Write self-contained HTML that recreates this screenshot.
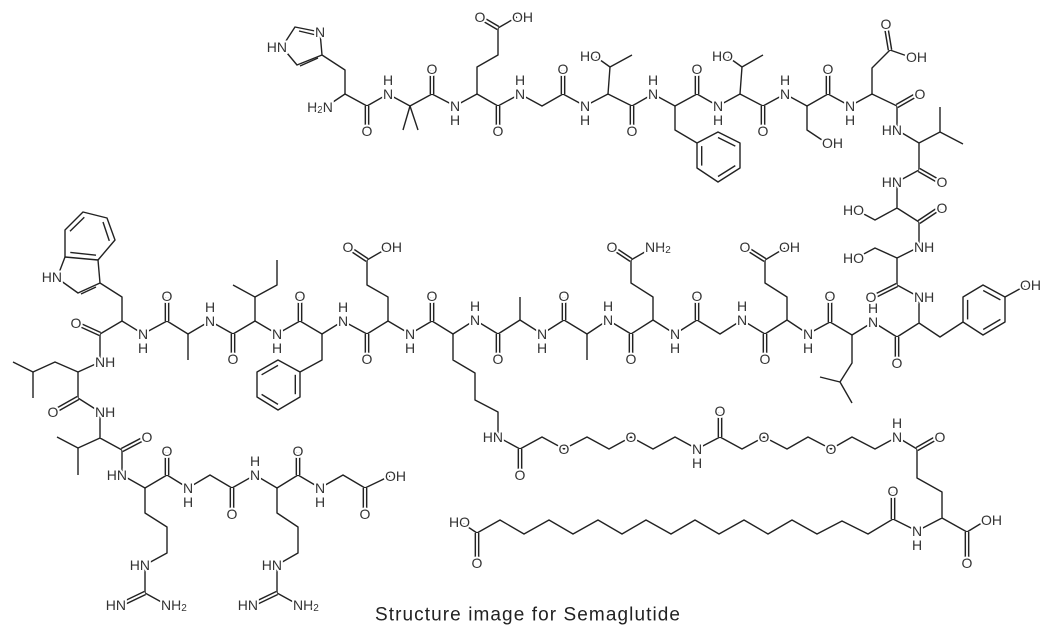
<!DOCTYPE html>
<html><head><meta charset="utf-8"><style>
html,body{margin:0;padding:0;background:#fff;}
svg{display:block}
.b{stroke:#222;stroke-width:1.4;fill:none;stroke-linejoin:round}
text{font-family:"Liberation Sans",sans-serif;font-size:14px;fill:#333;stroke:#fff;stroke-width:4;paint-order:stroke;dominant-baseline:central}
.c{text-anchor:middle}
.e{text-anchor:end}
.s{text-anchor:start}
</style></head><body>
<svg width="1052" height="631" viewBox="0 0 1052 631" xmlns="http://www.w3.org/2000/svg">
<polyline class="b" points="330,104 345,94 367,106 388,94 410,106 432,94 455,106 477,94 498,106 520,94 542,106 563,94 585,106 608,94 632,106 653,94 675,106 697,94 718,106 740,94 763,106 785,94 807,106 828,94 850,106 872,94 897,106 897,130 919,143 919,170 897,182 897,208 919,222 919,247 897,258 897,285 919,297 919,323 897,337 873,322 852,335 830,322 808,334 787,320 765,334 742,320 720,334 697,320 675,334 653,320 631,334 608,320 587,334 564,320 542,334 520,320 498,334 475,320 453,334 432,321 410,334 388,321 367,334 343,321 322,334 300,321 277,334 255,321 233,334 210,321 188,334 167,321 143,334 122,321 100,334 100,362 78,372 78,398 100,412 100,438 122,450 122,475 145,488 167,475 188,488 210,475 232,488 255,475 277,488 298,475 320,488 343,475 365,488 390,476"/>
<polyline class="b" points="345,94 345,70 322,55 320,32 295,27 282,47 297,65 322,55"/>
<line class="b" x1="410" y1="106" x2="403" y2="130"/><line class="b" x1="410" y1="106" x2="418" y2="130"/>
<polyline class="b" points="477,94 477,67 498,55 498,28 517,17"/>
<polyline class="b" points="608,94 610,67 632,55"/><line class="b" x1="610" y1="67" x2="596" y2="57"/>
<polyline class="b" points="675,106 675,130 697,143 718,132 740,143 740,168 718,182 697,168 697,143"/>
<polyline class="b" points="740,94 742,67 763,55"/><line class="b" x1="742" y1="67" x2="728" y2="57"/>
<polyline class="b" points="807,106 807,130 825,142"/>
<polyline class="b" points="872,94 872,68 890,50 910,57"/>
<polyline class="b" points="919,143 940,132 940,107"/><line class="b" x1="940" y1="132" x2="963" y2="144"/>
<polyline class="b" points="897,208 875,220 860,212"/>
<polyline class="b" points="897,258 875,248 860,256"/>
<polyline class="b" points="919,323 940,337 963,322 963,297 983,285 1005,297 1005,322 983,335 963,322"/>
<line class="b" x1="1005" y1="297" x2="1025" y2="286"/>
<polyline class="b" points="852,335 852,363 840,382 852,403"/><line class="b" x1="840" y1="382" x2="820" y2="377"/>
<polyline class="b" points="787,320 787,297 765,283 765,260 785,248"/>
<polyline class="b" points="653,320 653,297 631,283 631,260 650,249"/>
<line class="b" x1="520" y1="320" x2="520" y2="297"/>
<line class="b" x1="587" y1="334" x2="587" y2="360"/>
<polyline class="b" points="453,334 453,360 475,373 475,400 498,412 498,437 520,449 542,437 564,449 587,437 609,449 631,437 653,449 675,437 697,449 720,437 742,449 764,437 787,449 808,437 831,449 852,437 875,449 897,437 917,449 917,478 942,492 942,518 917,531 893,519 868,534 842,521 817,534 792,520 768,534 744,520 719,534 695,520 671,534 646,520 622,534 598,520 573,534 549,520 524,534 500,520 477,533 462,523"/>
<line class="b" x1="942" y1="518" x2="967" y2="532"/><line class="b" x1="967" y1="532" x2="985" y2="521"/>
<polyline class="b" points="122,321 122,297 100,283 78,293 57,278 65,257 98,260 100,283"/>
<polyline class="b" points="65,257 65,230 83,212 107,218 115,240 98,260"/>
<line class="b" x1="188" y1="334" x2="188" y2="360"/>
<polyline class="b" points="255,321 255,297 233,285"/><polyline class="b" points="255,297 277,285 277,260"/>
<polyline class="b" points="322,334 322,360 300,372 300,397 278,410 257,397 257,372 278,360 300,372"/>
<polyline class="b" points="388,321 388,297 367,285 367,260 386,249"/>
<polyline class="b" points="78,372 55,362 33,372 13,362"/><line class="b" x1="33" y1="372" x2="33" y2="398"/>
<polyline class="b" points="100,438 78,448 57,437"/><line class="b" x1="78" y1="448" x2="78" y2="475"/>
<polyline class="b" points="145,488 145,513 167,527 167,553 145,565 145,593 165,604"/>
<polyline class="b" points="277,488 277,513 298,527 298,553 277,565 277,593 297,604"/>
<g class="b">
<line x1="718" y1="137.5" x2="735.3" y2="146.1"/><line x1="735.3" y1="165.6" x2="718" y2="176.5"/><line x1="701.7" y1="165.6" x2="701.7" y2="146.1"/>
<line x1="295.3" y1="374.8" x2="295.3" y2="394.2"/><line x1="278" y1="404.4" x2="261.6" y2="394.4"/><line x1="261.6" y1="374.8" x2="278" y2="365.4"/>
<line x1="983.2" y1="290.5" x2="1000.4" y2="299.9"/><line x1="1000.4" y1="319.4" x2="983.2" y2="329.5"/><line x1="967.6" y1="319.4" x2="967.6" y2="299.9"/>
<line x1="70" y1="231.3" x2="84.3" y2="217.3"/><line x1="103" y1="222" x2="109.3" y2="240.9"/><line x1="96" y1="255.2" x2="70.3" y2="252.4"/>
<line x1="96" y1="287" x2="81" y2="294"/>
<line x1="299" y1="31" x2="316" y2="35"/><line x1="318" y1="58" x2="300" y2="66"/>
</g>
<g id="dbl">
<line x1="367" y1="106" x2="367" y2="130"/><line x1="432" y1="94" x2="432" y2="70"/><line x1="498" y1="106" x2="498" y2="130"/><line x1="563" y1="94" x2="563" y2="70"/>
<line x1="632" y1="106" x2="632" y2="130"/><line x1="697" y1="94" x2="697" y2="70"/><line x1="763" y1="106" x2="763" y2="130"/><line x1="828" y1="94" x2="828" y2="70"/>
<line x1="897" y1="106" x2="918" y2="94"/><line x1="919" y1="170" x2="940" y2="182"/><line x1="919" y1="222" x2="940" y2="208"/><line x1="897" y1="285" x2="873" y2="297"/>
<line x1="897" y1="337" x2="897" y2="362"/><line x1="830" y1="322" x2="830" y2="297"/><line x1="765" y1="334" x2="765" y2="358"/><line x1="697" y1="320" x2="697" y2="297"/>
<line x1="631" y1="334" x2="631" y2="358"/><line x1="564" y1="320" x2="564" y2="297"/><line x1="498" y1="334" x2="498" y2="358"/><line x1="432" y1="321" x2="432" y2="297"/>
<line x1="367" y1="334" x2="367" y2="358"/><line x1="300" y1="321" x2="300" y2="297"/><line x1="233" y1="334" x2="233" y2="358"/><line x1="167" y1="321" x2="167" y2="297"/>
<line x1="100" y1="334" x2="78" y2="324"/><line x1="78" y1="398" x2="55" y2="411"/><line x1="122" y1="450" x2="145" y2="438"/><line x1="167" y1="475" x2="167" y2="452"/>
<line x1="232" y1="488" x2="232" y2="513"/><line x1="298" y1="475" x2="298" y2="452"/><line x1="365" y1="488" x2="365" y2="513"/>
<line x1="498" y1="28" x2="481" y2="18"/><line x1="890" y1="50" x2="886" y2="26"/><line x1="765" y1="260" x2="746" y2="248"/><line x1="631" y1="260" x2="613" y2="248"/><line x1="367" y1="260" x2="349" y2="248"/>
<line x1="520" y1="449" x2="520" y2="474"/><line x1="720" y1="437" x2="720" y2="412"/><line x1="917" y1="449" x2="938" y2="437"/><line x1="893" y1="519" x2="893" y2="492"/>
<line x1="967" y1="532" x2="967" y2="562"/><line x1="477" y1="533" x2="477" y2="562"/>
<line x1="145" y1="593" x2="122" y2="604"/><line x1="277" y1="593" x2="254" y2="604"/>
</g>
<use href="#dbl" style="stroke:#222;stroke-width:4.8"/>
<use href="#dbl" style="stroke:#fff;stroke-width:1.9"/>
<g>
<text class="c" x="320" y="107">H<tspan font-size="10" dy="3">2</tspan><tspan dy="-3">N</tspan></text>
<text class="c" x="320" y="32">N</text><text class="e" x="287" y="47">HN</text>
<text class="c" x="388" y="94">N</text><text class="c" x="388" y="80">H</text>
<text class="c" x="455" y="106">N</text><text class="c" x="455" y="120">H</text>
<text class="c" x="520" y="94">N</text><text class="c" x="520" y="80">H</text>
<text class="c" x="585" y="106">N</text><text class="c" x="585" y="120">H</text>
<text class="c" x="653" y="94">N</text><text class="c" x="653" y="80">H</text>
<text class="c" x="718" y="106">N</text><text class="c" x="718" y="120">H</text>
<text class="c" x="785" y="94">N</text><text class="c" x="785" y="80">H</text>
<text class="c" x="850" y="106">N</text><text class="c" x="850" y="120">H</text>
<text class="e" x="902" y="130">HN</text><text class="e" x="902" y="182">HN</text>
<text class="s" x="914" y="247">NH</text><text class="s" x="914" y="297">NH</text>
<text class="c" x="873" y="322">N</text><text class="c" x="873" y="308">H</text>
<text class="c" x="808" y="334">N</text><text class="c" x="808" y="348">H</text>
<text class="c" x="742" y="320">N</text><text class="c" x="742" y="306">H</text>
<text class="c" x="675" y="334">N</text><text class="c" x="675" y="348">H</text>
<text class="c" x="608" y="320">N</text><text class="c" x="608" y="306">H</text>
<text class="c" x="542" y="334">N</text><text class="c" x="542" y="348">H</text>
<text class="c" x="475" y="320">N</text><text class="c" x="475" y="306">H</text>
<text class="c" x="410" y="334">N</text><text class="c" x="410" y="348">H</text>
<text class="c" x="343" y="321">N</text><text class="c" x="343" y="307">H</text>
<text class="c" x="277" y="334">N</text><text class="c" x="277" y="348">H</text>
<text class="c" x="210" y="321">N</text><text class="c" x="210" y="307">H</text>
<text class="c" x="143" y="334">N</text><text class="c" x="143" y="348">H</text>
<text class="s" x="95" y="362">NH</text><text class="s" x="95" y="412">NH</text>
<text class="e" x="127" y="475">HN</text>
<text class="c" x="188" y="488">N</text><text class="c" x="188" y="502">H</text>
<text class="c" x="255" y="475">N</text><text class="c" x="255" y="461">H</text>
<text class="c" x="320" y="488">N</text><text class="c" x="320" y="502">H</text>
<text class="s" x="385" y="476">OH</text>
<text class="c" x="367" y="131">O</text><text class="c" x="432" y="69">O</text><text class="c" x="498" y="131">O</text><text class="c" x="563" y="69">O</text>
<text class="c" x="632" y="131">O</text><text class="c" x="697" y="69">O</text><text class="c" x="763" y="131">O</text><text class="c" x="828" y="69">O</text>
<text class="c" x="920" y="94">O</text><text class="c" x="942" y="182">O</text><text class="c" x="942" y="208">O</text><text class="c" x="871" y="297">O</text>
<text class="c" x="897" y="363">O</text><text class="c" x="830" y="296">O</text><text class="c" x="765" y="359">O</text><text class="c" x="697" y="296">O</text>
<text class="c" x="631" y="359">O</text><text class="c" x="564" y="296">O</text><text class="c" x="498" y="359">O</text><text class="c" x="432" y="296">O</text>
<text class="c" x="367" y="359">O</text><text class="c" x="300" y="296">O</text><text class="c" x="233" y="359">O</text><text class="c" x="167" y="296">O</text>
<text class="c" x="76" y="323">O</text><text class="c" x="53" y="412">O</text><text class="c" x="147" y="437">O</text><text class="c" x="167" y="451">O</text>
<text class="c" x="232" y="514">O</text><text class="c" x="298" y="451">O</text><text class="c" x="365" y="514">O</text>
<text class="c" x="480" y="17">O</text><text class="s" x="512" y="17">OH</text>
<text class="e" x="601" y="56">HO</text><text class="e" x="733" y="56">HO</text>
<text class="s" x="822" y="143">OH</text>
<text class="c" x="886" y="24">O</text><text class="s" x="906" y="57">OH</text>
<text class="e" x="864" y="210">HO</text><text class="e" x="864" y="258">HO</text>
<text class="s" x="1020" y="285">OH</text>
<text class="c" x="745" y="247">O</text><text class="s" x="779" y="247">OH</text>
<text class="c" x="612" y="247">O</text><text class="s" x="645" y="247">NH<tspan font-size="10" dy="3">2</tspan></text>
<text class="c" x="348" y="247">O</text><text class="s" x="381" y="247">OH</text>
<text class="e" x="62" y="277">HN</text>
<text class="e" x="503" y="437">HN</text>
<text class="c" x="520" y="475">O</text><text class="c" x="564" y="449">O</text><text class="c" x="631" y="437">O</text>
<text class="c" x="697" y="449">N</text><text class="c" x="697" y="463">H</text>
<text class="c" x="720" y="411">O</text><text class="c" x="764" y="437">O</text><text class="c" x="831" y="449">O</text>
<text class="c" x="897" y="437">N</text><text class="c" x="897" y="423">H</text>
<text class="c" x="940" y="437">O</text><text class="c" x="893" y="491">O</text>
<text class="c" x="917" y="531">N</text><text class="c" x="917" y="545">H</text>
<text class="c" x="967" y="563">O</text><text class="s" x="981" y="520">OH</text>
<text class="c" x="477" y="563">O</text><text class="e" x="470" y="522">HO</text>
<text class="e" x="150" y="565">HN</text><text class="e" x="126" y="605">HN</text><text class="s" x="161" y="605">NH<tspan font-size="10" dy="3">2</tspan></text>
<text class="e" x="282" y="565">HN</text><text class="e" x="258" y="605">HN</text><text class="s" x="293" y="605">NH<tspan font-size="10" dy="3">2</tspan></text>
</g>
<text x="375" y="615" style="font-size:19px;fill:#222;stroke:none" textLength="305">Structure image for Semaglutide</text>
</svg>
</body></html>
